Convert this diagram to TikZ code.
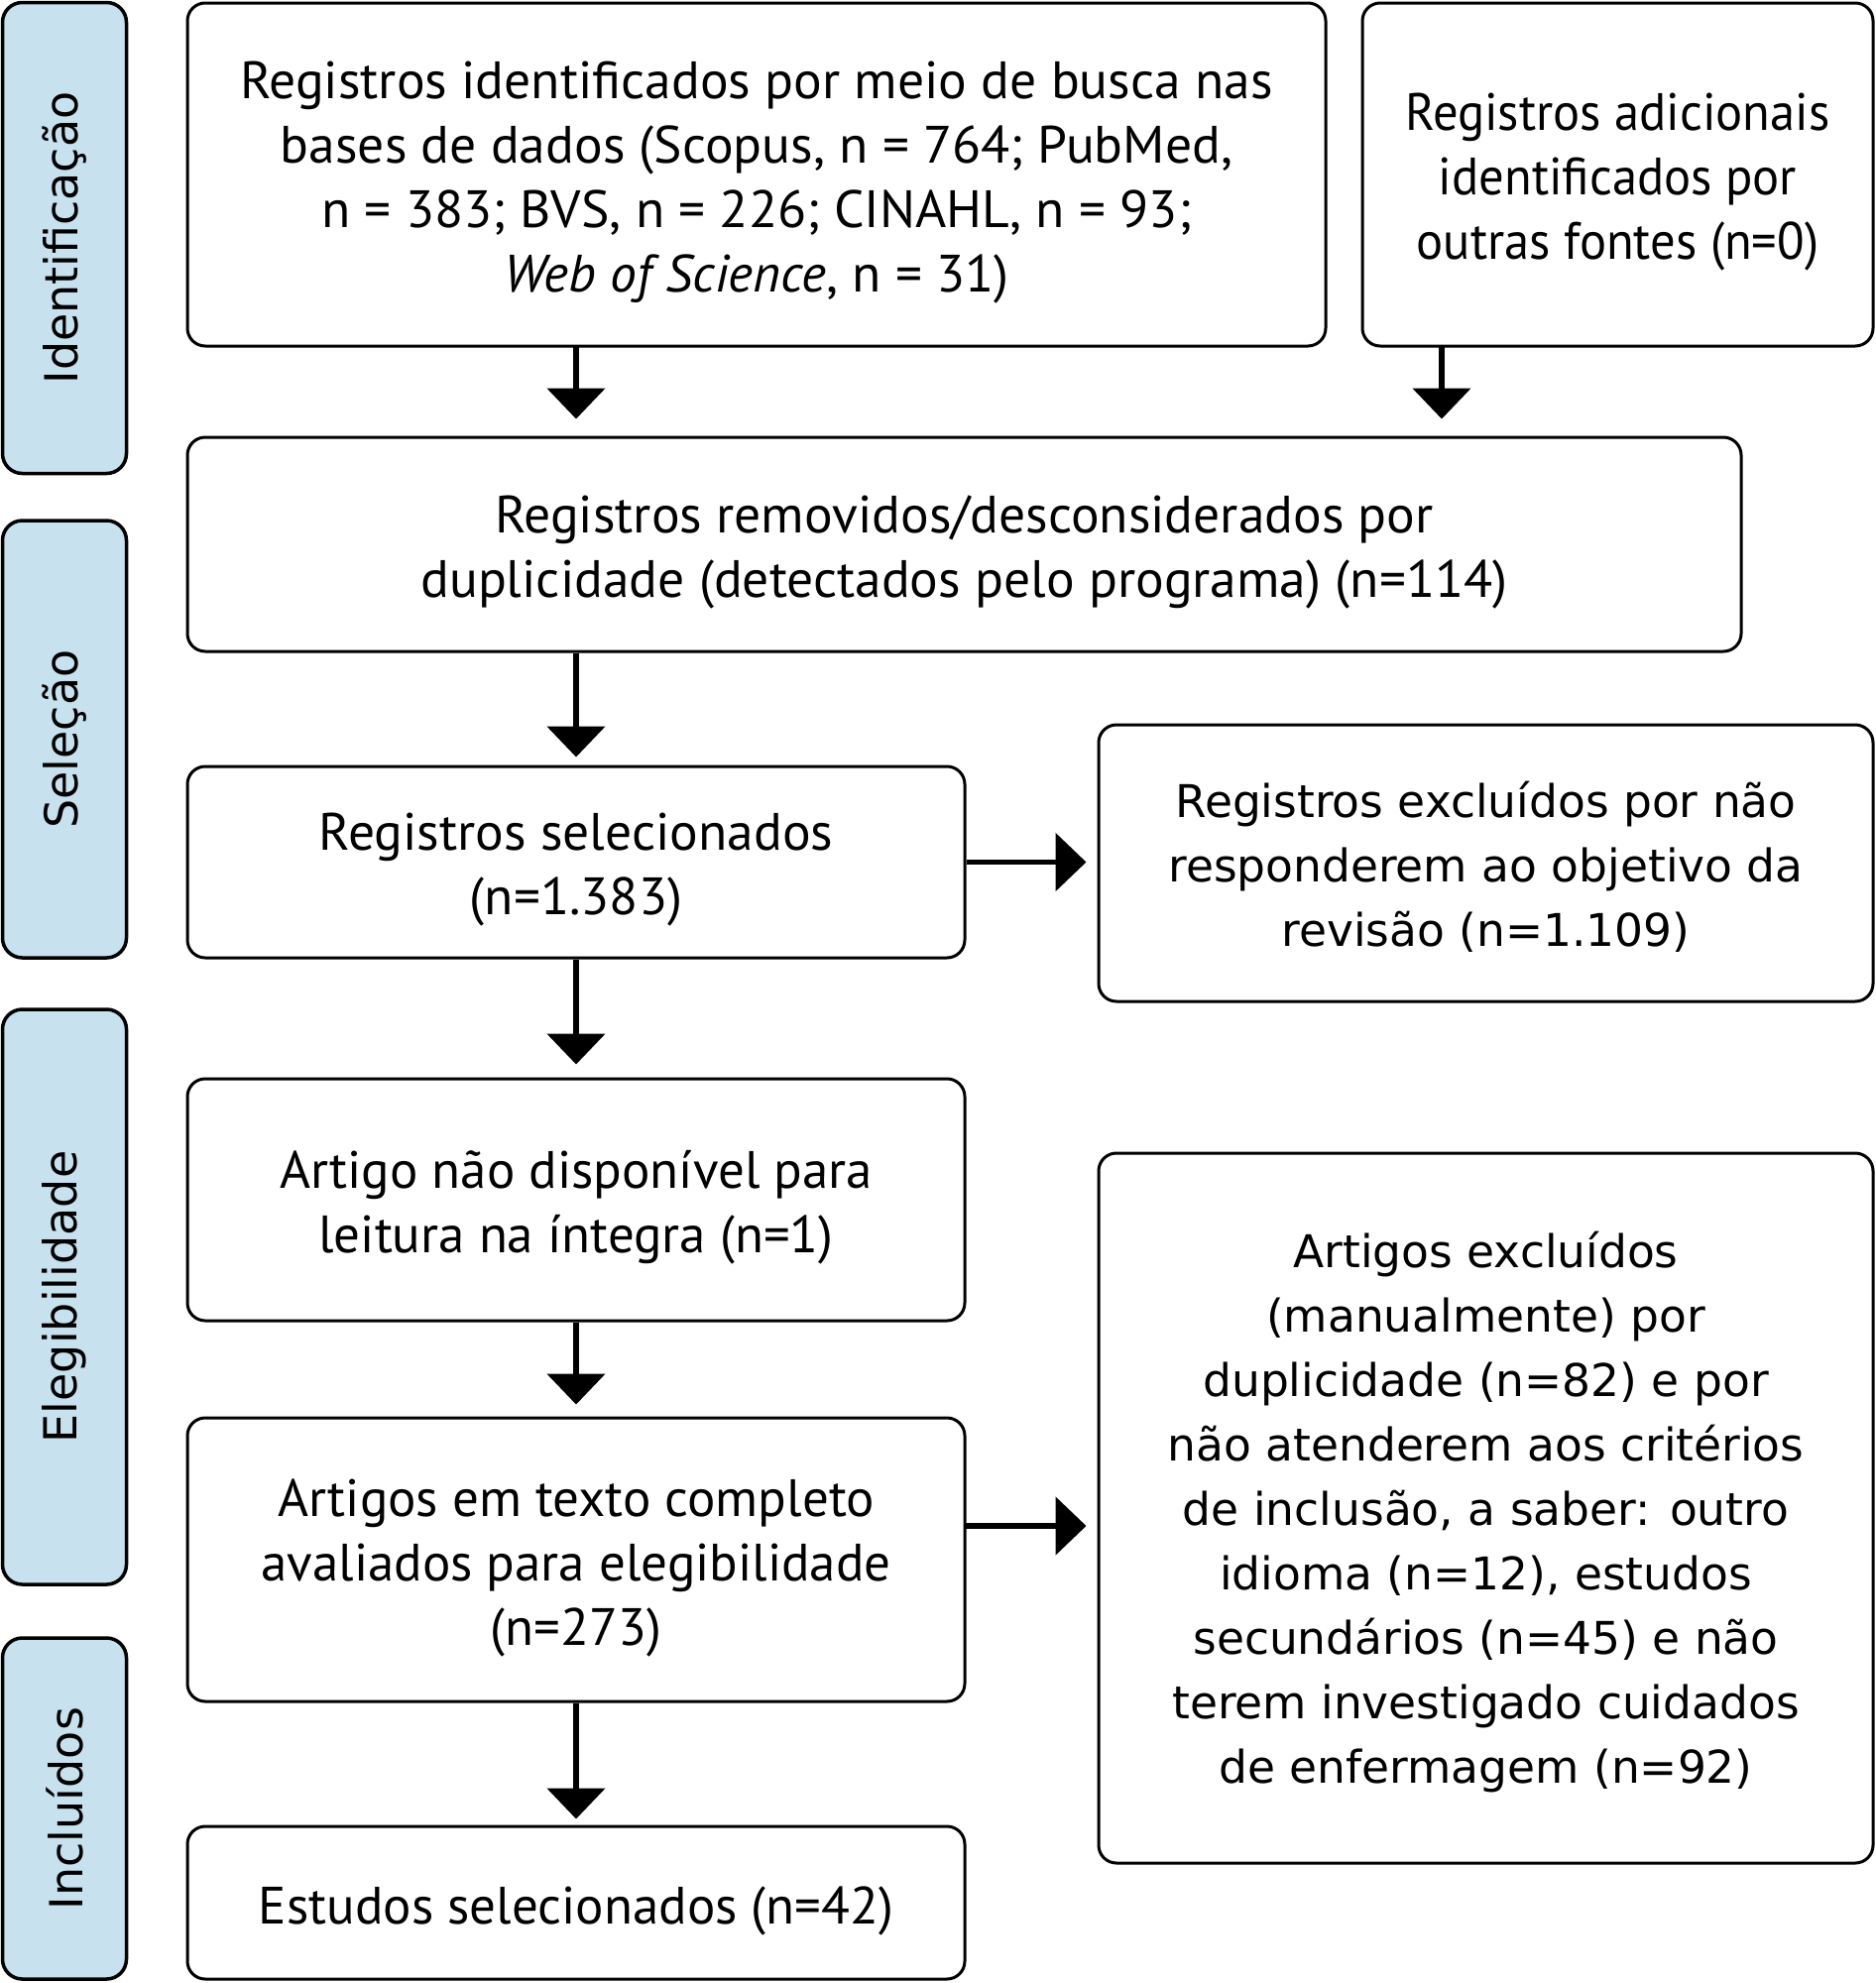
\documentclass[tikz,border=0pt]{standalone}
\usepackage{fontspec}
\setmainfont{PT Sans}
\newfontfamily\condf[FakeStretch=1.01]{PT Sans}
\newfontfamily\narrf[FakeStretch=0.955]{PT Sans}
\newfontfamily\regf[FakeStretch=1.0]{PT Sans}
\newfontfamily\widef{DejaVu Sans}
\usetikzlibrary{arrows.meta}
\definecolor{sideblue}{RGB}{199,225,238}
\tikzset{
  box/.style={draw=black, line width=3pt, rounded corners=18pt, fill=white, inner sep=0pt},
  side/.style={draw=black, line width=3.5pt, rounded corners=20pt, fill=sideblue, minimum width=125pt},
  sidetxt/.style={rotate=90, font=\widef\fontsize{46}{52}\selectfont},
  ctext/.style={align=center, yshift=-8pt, font=\condf\fontsize{53}{65}\selectfont},
  ntext/.style={align=center, yshift=-8pt, font=\narrf\fontsize{53}{65}\selectfont},
  rtext/.style={align=center, yshift=-8pt, font=\regf\fontsize{53}{65}\selectfont},
  wtext/.style={align=center, yshift=-4pt, font=\widef\fontsize{45.5}{65}\selectfont},
  flow/.style={line width=5.5pt, -{Triangle[width=58pt,length=31pt]}}
}
\begin{document}
\begin{tikzpicture}[x=1pt,y=-1pt]
\useasboundingbox (0,0) rectangle (1891,2000);
% side labels
\node[side, minimum height=475pt] (s1) at (65,240) {};
\node[sidetxt] (s1t) at (s1.center) {Identificação};
\node[side, minimum height=441pt] (s2) at (65,745.5) {};
\node[sidetxt] (s2t) at (s2.center) {Seleção};
\node[side, minimum height=580pt] (s3) at (65,1308) {};
\node[sidetxt] (s3t) at (s3.center) {Elegibilidade};
\node[side, minimum height=344pt] (s4) at (65,1824) {};
\node[sidetxt] (s4t) at (s4.center) {Incluídos};
% boxes
\node[box, minimum width=1148pt, minimum height=346pt] (b1) at (763,176) {};
\node[ctext] (b1t) at (b1.center)
  {Registros identificados por meio de busca nas\\ bases de dados (Scopus, n = 764; PubMed,\\ n = 383; BVS, n = 226; CINAHL, n = 93;\\ \textit{Web of Science}, n = 31)};
\node[box, minimum width=515pt, minimum height=346pt] (b2) at (1631.5,176) {};
\node[ntext] (b2t) at (b2.center)
  {Registros adicionais\\ identificados por\\ outras fontes (n=0)};
\node[box, minimum width=1567pt, minimum height=216pt] (b3) at (972.5,549) {};
\node[ctext] (b3t) at (b3.center)
  {Registros removidos/desconsiderados por\\ duplicidade (detectados pelo programa) (n=114)};
\node[box, minimum width=784pt, minimum height=193pt] (b4) at (581,869.5) {};
\node[ctext] (b4t) at (b4.center)
  {Registros selecionados\\ (n=1.383)};
\node[box, minimum width=781pt, minimum height=279pt] (b5) at (1498.5,870.5) {};
\node[wtext] (b5t) at (b5.center)
  {Registros excluídos por não\\ responderem ao objetivo da\\ revisão (n=1.109)};
\node[box, minimum width=784pt, minimum height=244pt] (b6) at (581,1210) {};
\node[rtext] (b6t) at (b6.center)
  {Artigo não disponível para\\ leitura na íntegra (n=1)};
\node[box, minimum width=784pt, minimum height=286pt] (b7) at (581,1573) {};
\node[rtext] (b7t) at (b7.center)
  {Artigos em texto completo\\ avaliados para elegibilidade\\ (n=273)};
\node[box, minimum width=784pt, minimum height=154pt] (b8) at (581,1919) {};
\node[rtext] (b8t) at (b8.center)
  {Estudos selecionados (n=42)};
\node[box, minimum width=781pt, minimum height=716pt] (b9) at (1498.5,1521) {};
\node[wtext] (b9t) at (b9.center)
  {Artigos excluídos\\ (manualmente) por\\ duplicidade (n=82) e por\\ não atenderem aos critérios\\ de inclusão, a saber: outro\\ idioma (n=12), estudos\\ secundários (n=45) e não\\ terem investigado cuidados\\ de enfermagem (n=92)};
% connectors
\coordinate (a1) at (581,349);
\coordinate (a2) at (1454,349);
\coordinate (a7) at (973,1539);
\draw[flow, shorten >=17pt] (a1) -- (a1 |- b3.north);
\draw[flow, shorten >=17pt] (a2) -- (a2 |- b3.north);
\draw[flow, shorten >=8pt] (b3.south -| b4.north) -- (b4.north);
\draw[flow, shorten >=11pt] (b4.east) -- (b4.east -| b5.west);
\draw[flow, shorten >=13pt] (b4.south) -- (b6.north);
\draw[flow, shorten >=12pt] (b6.south) -- (b7.north);
\draw[flow, shorten >=11pt] (a7) -- (a7 -| b9.west);
\draw[flow, shorten >=6pt] (b7.south) -- (b8.north);
\end{tikzpicture}
\end{document}
